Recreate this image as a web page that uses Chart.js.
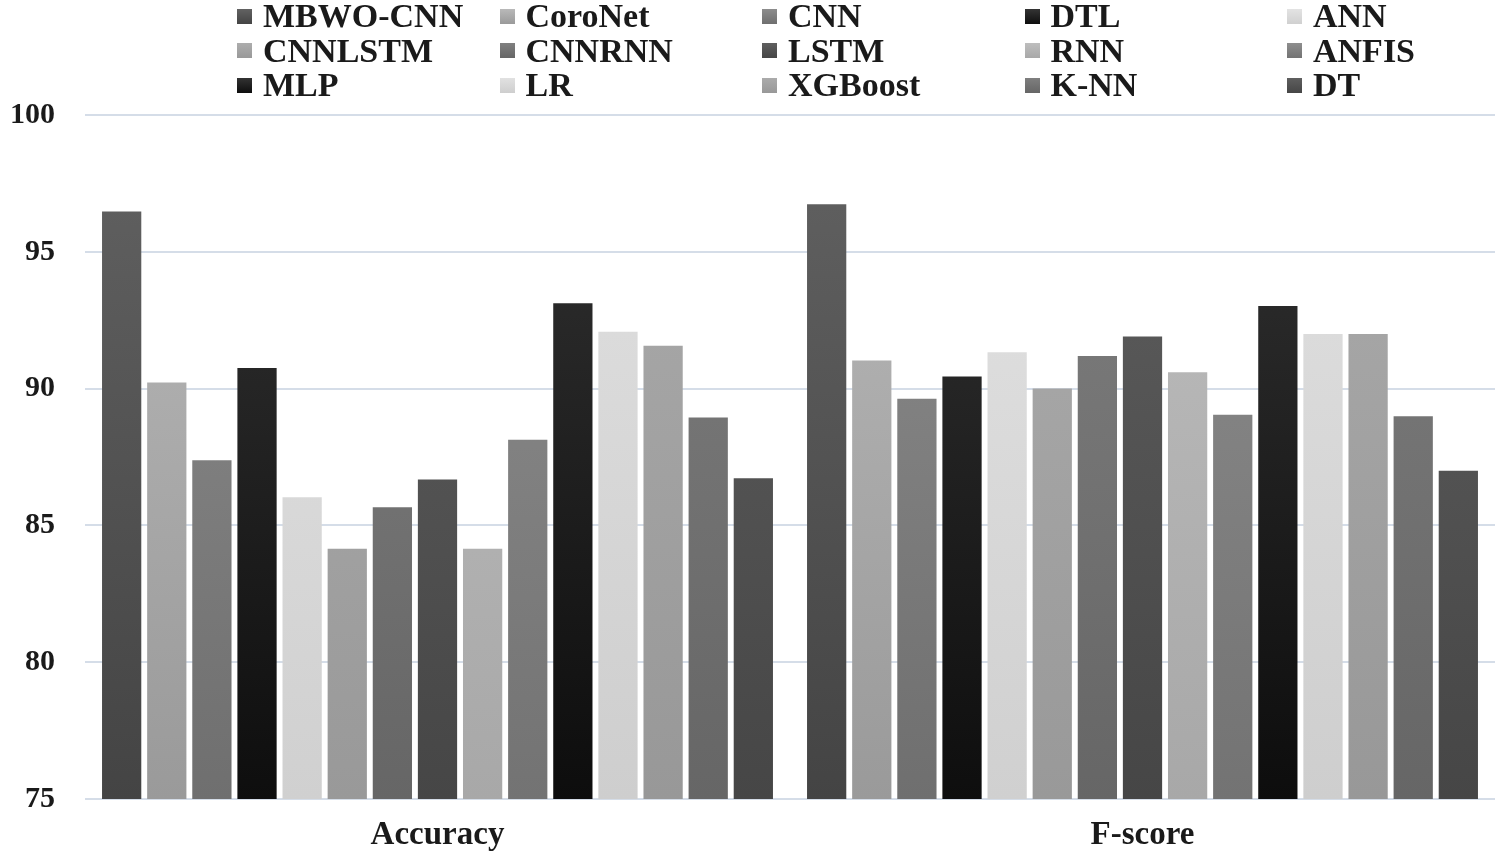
<!DOCTYPE html>
<html>
<head>
<meta charset="utf-8">
<script src="https://cdn.jsdelivr.net/npm/chart.js@4"></script>
<style>
  body { margin: 0; background: #fff; }
  #wrap { position: relative; width: 1500px; height: 855px; }
  #legend { position: absolute; left: 0; top: 0; width: 1500px; height: 100px; }
  .item { position: absolute; display: flex; align-items: center; height: 34px;
    font: bold 34px "Liberation Serif", "Times New Roman", serif; color: #1a1a1a; white-space: nowrap; }
  .box { width: 15px; height: 15px; margin-right: 11px; }
</style>
</head>
<body>
<div id="wrap">
  <canvas id="chart" width="1500" height="855"></canvas>
  <div id="legend"></div>
</div>
<script>
// ===== Data =====
const categories = ["Accuracy", "F-score"];
const models = ["MBWO-CNN","CoroNet","CNN","DTL","ANN","CNNLSTM","CNNRNN","LSTM","RNN","ANFIS","MLP","LR","XGBoost","K-NN","DT"];
const accuracy = [96.47, 90.22, 87.38, 90.75, 86.03, 84.15, 85.66, 86.68, 84.15, 88.13, 93.12, 92.08, 91.57, 88.94, 86.72];
const fscore   = [96.74, 91.03, 89.63, 90.44, 91.33, 90.00, 91.19, 91.90, 90.60, 89.04, 93.02, 92.00, 92.00, 88.99, 87.00];
const yTicks = [75, 80, 85, 90, 95, 100];

// ===== Styles (grey gradient per model: top, bottom) =====
const topColors = ["#626262","#b9b9b9","#8d8d8d","#343434","#e3e3e3","#adadad","#808080","#5f5f5f","#bebebe","#8e8e8e","#333333","#e1e1e1","#ababab","#7f7f7f","#5f5f5f"];
const botColors = ["#444444","#9a9a9a","#6f6f6f","#0e0e0e","#d0d0d0","#999999","#666666","#464646","#a8a8a8","#737373","#0d0d0d","#cecece","#989898","#666666","#464646"];

function gradFor(i) {
  return (ctx) => {
    const area = ctx.chart.chartArea;
    if (!area) return topColors[i];
    const g = ctx.chart.ctx.createLinearGradient(0, area.top, 0, area.bottom);
    g.addColorStop(0, topColors[i]);
    g.addColorStop(1, botColors[i]);
    return g;
  };
}

const datasets = models.map((m, i) => ({
  label: m,
  data: [accuracy[i], fscore[i]],
  backgroundColor: gradFor(i),
  borderWidth: 0,
  barPercentage: 0.87,
  categoryPercentage: 0.96
}));

new Chart(document.getElementById("chart").getContext("2d"), {
  type: "bar",
  data: { labels: categories, datasets },
  options: {
    responsive: false,
    animation: false,
    layout: { padding: { top: 115, left: 4, right: 5, bottom: 4 } },
    plugins: { legend: { display: false }, tooltip: { enabled: false } },
    scales: {
      x: {
        afterFit: (s) => { s.height = 52; },
        grid: { display: false, drawTicks: false },
        border: { display: false },
        ticks: { color: "#1a1a1a", padding: 17, font: { family: "Liberation Serif", weight: "bold", size: 33 } }
      },
      y: {
        min: yTicks[0],
        max: yTicks[yTicks.length - 1],
        afterBuildTicks: (axis) => { axis.ticks = yTicks.map(v => ({ value: v })); },
        afterFit: (s) => { s.width = 81; },
        grid: { color: "#d5dde8", lineWidth: 2, drawTicks: false },
        border: { display: false },
        ticks: { color: "#1a1a1a", padding: 30, font: { family: "Liberation Serif", weight: "bold", size: 30 } }
      }
    }
  }
});

// ===== Legend (5 columns x 3 rows) =====
const legend = document.getElementById("legend");
models.forEach((m, i) => {
  const col = i % 5, row = Math.floor(i / 5);
  const el = document.createElement("div");
  el.className = "item";
  el.style.left = (237 + col * 262.5) + "px";
  el.style.top = (-1 + row * 34.5) + "px";
  const box = document.createElement("span");
  box.className = "box";
  box.style.background = `linear-gradient(${topColors[i]}, ${botColors[i]})`;
  el.appendChild(box);
  el.appendChild(document.createTextNode(m));
  legend.appendChild(el);
});
</script>
</body>
</html>
